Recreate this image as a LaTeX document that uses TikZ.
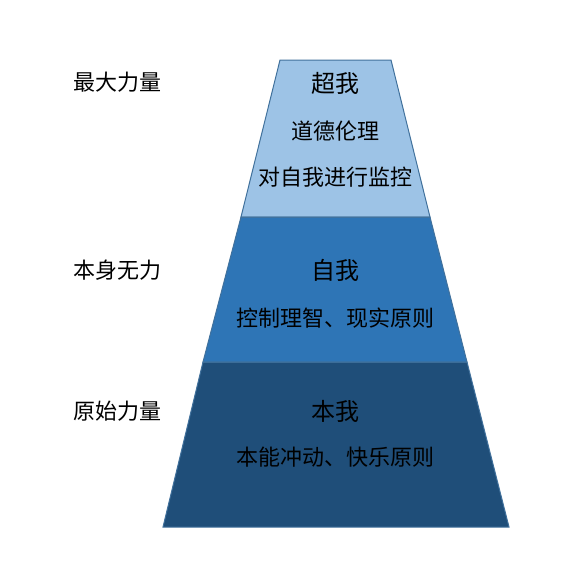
\documentclass[tikz,border=0pt]{standalone}
\usepackage{fontspec}
\setmainfont{Noto Sans CJK SC}
\definecolor{topc}{HTML}{9DC3E6}
\definecolor{midc}{HTML}{2E75B6}
\definecolor{botc}{HTML}{1F4E79}
\definecolor{edgec}{HTML}{41719C}
\begin{document}
\begin{tikzpicture}[x=1pt,y=-1pt,
  layer/.style={draw=edgec,line width=1pt},
  title/.style={font=\fontsize{24}{26}\selectfont,text=black,inner sep=0pt},
  desc/.style={font=\fontsize{22}{24}\selectfont,text=black,inner sep=0pt},
  side/.style={font=\fontsize{22}{24}\selectfont,text=black,inner sep=0pt}]
\useasboundingbox (0,0) rectangle (568,581);
\coordinate (a1) at (280,60);  \coordinate (a2) at (391,60);
\coordinate (b1) at (241,217); \coordinate (b2) at (430,217);
\coordinate (c1) at (203,362); \coordinate (c2) at (467,362);
\coordinate (d1) at (163,527); \coordinate (d2) at (509,527);
\fill[botc] (c1) -- (c2) -- (d2) -- (d1) -- cycle;
\fill[midc] (b1) -- (b2) -- (c2) -- (c1) -- cycle;
\fill[topc] (a1) -- (a2) -- (b2) -- (b1) -- cycle;
\draw[layer] (a1) -- (a2) -- (b2) -- (b1) -- cycle;
\draw[layer] (b1) -- (b2) -- (c2) -- (c1) -- cycle;
\draw[layer] (c1) -- (c2) -- (d2) -- (d1) -- cycle;
\node[title] (t1) at (335.5,83) {超我};
\node[desc] (t1a) at (335.5,131) {道德伦理};
\node[desc] (t1b) at (335.5,177) {对自我进行监控};
\node[title] (t2) at (335.5,270) {自我};
\node[desc] (t2a) at (335.5,318) {控制理智、现实原则};
\node[title] (t3) at (335.5,411) {本我};
\node[desc] (t3a) at (335.5,457) {本能冲动、快乐原则};
\node[side] (s1) at (117,82) {最大力量};
\node[side] (s2) at (117,270) {本身无力};
\node[side] (s3) at (117,411) {原始力量};
\end{tikzpicture}
\end{document}
